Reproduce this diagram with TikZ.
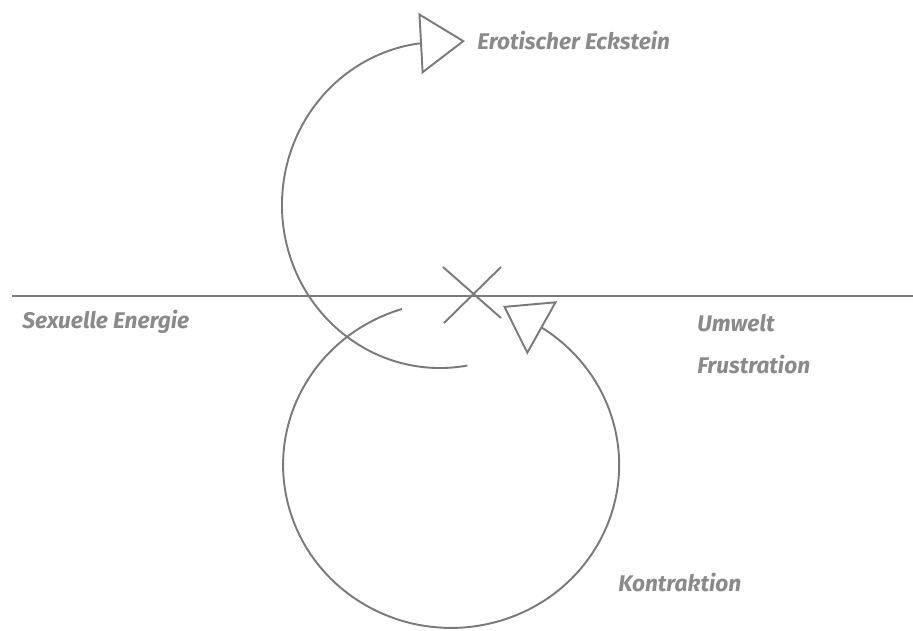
\documentclass[tikz,border=0pt]{standalone}
\usepackage{fontspec}
\setsansfont{Fira Sans}
\usepackage{tikz}
\usetikzlibrary{arrows.meta}
\definecolor{linie}{HTML}{7A7A7A}
\definecolor{schrift}{HTML}{8A8A8A}

\begin{document}
\begin{tikzpicture}[x=0.02cm,y=0.02cm,
  lbl/.style={font=\sffamily\bfseries\itshape\fontsize{12.9}{14}\selectfont,text=schrift,anchor=west,inner sep=0pt},
  ln/.style={draw=linie,line width=1.1pt},
  pfeil/.style={-{Triangle[open,length=0.9cm,width=1.22cm,line width=1.1pt]}}]
\useasboundingbox (0,0) rectangle (913,-630);
% achse
\coordinate (al) at (12,-296);
\coordinate (ar) at (913,-296);
\draw[ln] (al) -- (ar);
% kreuz
\coordinate (k1) at (443,-267);
\coordinate (k2) at (501,-318);
\coordinate (k3) at (501,-267);
\coordinate (k4) at (444,-323);
\draw[ln] (k1) -- (k2);
\draw[ln] (k3) -- (k4);
% oberer bogen
\coordinate (ob) at (467.4,-365.5);
\coordinate (ospitze) at (465,-41);
\draw[ln,pfeil] (ob) arc[start angle=280,end angle=98,x radius=158,y radius=163] -- (ospitze);
% unterer kreis
\coordinate (ua) at (402,-309);
\coordinate (uspitze) at (503,-306);
\draw[ln,pfeil] (ua) arc[start angle=107,end angle=417,x radius=168,y radius=163] -- (uspitze);
% texte
\node[lbl] (ero) at (477,-41) {Erotischer Eckstein};
\node[lbl] (sex) at (22,-322) {Sexuelle Energie};
\node[lbl] (umw) at (697,-323) {Umwelt};
\node[lbl] (fru) at (697,-365) {Frustration};
\node[lbl] (kon) at (618,-583) {Kontraktion};
\end{tikzpicture}
\end{document}
